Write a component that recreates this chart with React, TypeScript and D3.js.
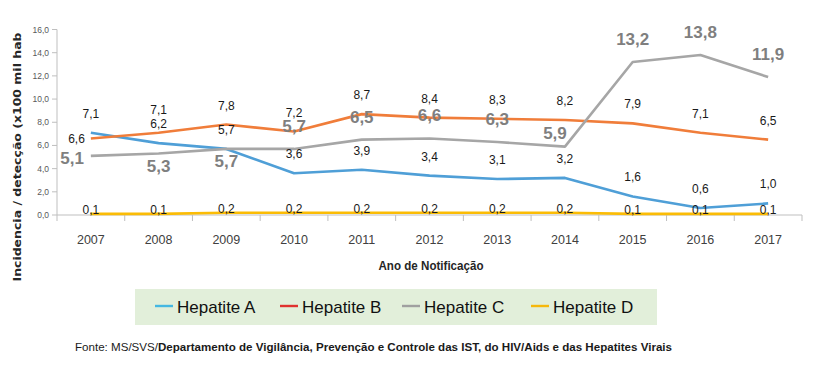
import React from "react";
import * as d3 from "d3";

const years = ["2007", "2008", "2009", "2010", "2011", "2012", "2013", "2014", "2015", "2016", "2017"];
const hepA = [7.1, 6.2, 5.7, 3.6, 3.9, 3.4, 3.1, 3.2, 1.6, 0.6, 1.0];
const hepB = [6.6, 7.1, 7.8, 7.2, 8.7, 8.4, 8.3, 8.2, 7.9, 7.1, 6.5];
const hepC = [5.1, 5.3, 5.7, 5.7, 6.5, 6.6, 6.3, 5.9, 13.2, 13.8, 11.9];
const hepD = [0.1, 0.1, 0.2, 0.2, 0.2, 0.2, 0.2, 0.2, 0.1, 0.1, 0.1];
const yTicks = [0, 2, 4, 6, 8, 10, 12, 14, 16];
const seriesNames = ["Hepatite A", "Hepatite B", "Hepatite C", "Hepatite D"];

const W = 816;
const H = 365;
const sans = "'Liberation Sans', Arial, sans-serif";

const lineColors = ["#4f9fd7", "#f07d3a", "#a6a6a6", "#fbbc05"];
const legendColors = ["#45b8e2", "#e0322f", "#a0a0a0", "#f6b80c"];

const fmt = (v: number) => v.toFixed(1).replace(".", ",");

export default function App() {
  const x = d3.scaleBand().domain(years).range([57, 802]).paddingInner(0).paddingOuter(0);
  const y = d3.scaleLinear().domain([0, 16]).range([215, 29.5]);
  const cx = (yr: string) => (x(yr) as number) + x.bandwidth() / 2;

  const line = d3
    .line<number>()
    .x((_, i) => cx(years[i]))
    .y((d) => y(d));

  const series = [hepA, hepB, hepC, hepD];
  const boundaries = years.map((yr) => x(yr) as number).concat([x.range()[1]]);

  // label placement per series, like the manual placement in the original
  const labelFor = (s: number, i: number, v: number) => {
    const px = cx(years[i]);
    const py = y(v);
    if (s === 2) {
      const style = { fontSize: 17, fontWeight: 700, fill: "#7f7f7f" };
      if (i === 0) return { x: px - 7, y: py + 8, anchor: "end", style };
      if (i === 1 || i === 2) return { x: px, y: py + 18, anchor: "middle", style };
      if (i === 7) return { x: px - 10, y: py - 8, anchor: "middle", style };
      return { x: px, y: py - 17, anchor: "middle", style };
    }
    const style = { fontSize: 12, fontWeight: 400, fill: "#1a1a1a" };
    if (s === 1 && i === 0) return { x: px - 6, y: py + 5, anchor: "end", style };
    if (s === 1 && i === 1) return { x: px, y: py - 19, anchor: "middle", style };
    if (s === 3) return { x: px, y: py + 0.5, anchor: "middle", style };
    return { x: px, y: py - 15, anchor: "middle", style };
  };

  return (
    <svg width={W} height={H} style={{ display: "block", position: "absolute", left: 0, top: 0, background: "#fff" }}>
      <rect width={W} height={H} fill="#fff" />

      {/* y axis */}
      <line x1={57} x2={57} y1={y(16)} y2={y(0)} stroke="#bfbfbf" />
      {yTicks.map((t) => (
        <g key={t}>
          <line x1={52} x2={57} y1={y(t)} y2={y(t)} stroke="#bfbfbf" />
          <text x={49} y={y(t) + 3} textAnchor="end" fontFamily={sans} fontSize={8.5} fill="#595959">
            {fmt(t)}
          </text>
        </g>
      ))}

      {/* x axis */}
      <line x1={57} x2={802} y1={y(0)} y2={y(0)} stroke="#bfbfbf" />
      {boundaries.map((b, i) => (
        <line key={i} x1={b} x2={b} y1={y(0)} y2={y(0) + 6} stroke="#bfbfbf" />
      ))}
      {years.map((yr) => (
        <text key={yr} x={cx(yr)} y={244} textAnchor="middle" fontFamily={sans} fontSize={12.5} fill="#404040">
          {yr}
        </text>
      ))}

      {/* lines */}
      {series.map((s, k) => (
        <path key={k} d={line(s) as string} fill="none" stroke={lineColors[k]} strokeWidth={2.6} strokeLinejoin="round" />
      ))}

      {/* data labels */}
      {series.map((s, k) =>
        s.map((v, i) => {
          const l = labelFor(k, i, v);
          return (
            <text
              key={k + "-" + i}
              x={l.x}
              y={l.y}
              textAnchor={l.anchor as any}
              fontFamily={sans}
              fontSize={l.style.fontSize}
              fontWeight={l.style.fontWeight}
              fill={l.style.fill}
            >
              {fmt(v)}
            </text>
          );
        })
      )}

      {/* axis titles */}
      <text
        transform="translate(21,157) rotate(-90)"
        textAnchor="middle"
        fontFamily="'DejaVu Sans', Verdana, sans-serif"
        fontWeight={700}
        fontSize={11}
        fill="#262626"
        textLength={249}
        lengthAdjust="spacingAndGlyphs"
      >
        Incidencia / detecção (x100 mil hab
      </text>
      <text
        x={431}
        y={270}
        textAnchor="middle"
        fontFamily={sans}
        fontWeight={700}
        fontSize={13}
        fill="#262626"
        textLength={105}
        lengthAdjust="spacingAndGlyphs"
      >
        Ano de Notificação
      </text>

      {/* legend */}
      <rect x={135} y={289} width={522} height={36} fill="#e2efda" />
      {seriesNames.map((n, k) => {
        const lx = [155, 280, 402, 531][k];
        return (
          <g key={n}>
            <line x1={lx} x2={lx + 18} y1={306} y2={306} stroke={legendColors[k]} strokeWidth={2.4} />
            <text x={lx + 22} y={312.5} fontFamily={sans} fontSize={17} fill="#111">
              {n}
            </text>
          </g>
        );
      })}

      {/* source */}
      <text
        x={75}
        y={351}
        fontFamily={sans}
        fontSize={10.5}
        fill="#1a1a1a"
        textLength={597}
        lengthAdjust="spacingAndGlyphs"
      >
        <tspan>Fonte: MS/SVS/</tspan>
        <tspan fontWeight={700}>
          Departamento de Vigilância, Prevenção e Controle das IST, do HIV/Aids e das Hepatites Virais
        </tspan>
      </text>
    </svg>
  );
}
